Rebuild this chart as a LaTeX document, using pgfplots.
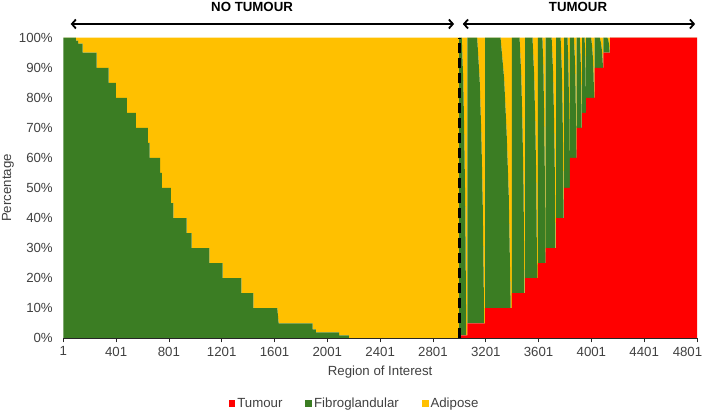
\documentclass[border=0pt]{standalone}
\usepackage{fontspec}
\setmainfont{Liberation Sans}
\usepackage{pgfplots}
\pgfplotsset{compat=1.18}
\usepackage{pgfplotstable}
\usetikzlibrary{arrows.meta}

\definecolor{tumour}{HTML}{FF0000}
\definecolor{fibro}{HTML}{3B7D23}
\definecolor{adipose}{HTML}{FFC000}
\definecolor{txt}{HTML}{404040}

% Tissue composition of each region of interest (percent):
% T = tumour, F = fibroglandular, A = adipose
\pgfplotstableread{
x T F A
1 0 100 0
97 0 100 0
97 0 99 1
114 0 99 1
114 0 98 2
147 0 98 2
147 0 95 5
253 0 95 5
253 0 90 10
344 0 90 10
344 0 85 15
400 0 85 15
400 0 80 20
483 0 80 20
483 0 75 25
551 0 75 25
551 0 70 30
642 0 70 30
642 0 65 35
655 0 65 35
655 0 60 40
735 0 60 40
735 0 55 45
748 0 55 45
748 0 50 50
816 0 50 50
816 0 45 55
834 0 45 55
834 0 40 60
935 0 40 60
935 0 35 65
973 0 35 65
973 0 30 70
1107 0 30 70
1107 0 25 75
1208 0 25 75
1208 0 20 80
1349 0 20 80
1349 0 15 85
1440 0 15 85
1440 0 10 90
1622 0 10 90
1632 0 5 95
1890 0 5 95
1890 0 3 97
1915 0 3 97
1915 0 2 98
2090 0 2 98
2090 0 1 99
2165 0 1 99
2165 0 0 100
3000 0 0 100
3000 1 99 0
3019 1 99 0
3031 1 84.2 14.8
3039 1 64.4 34.6
3046 1 41.6 57.4
3053 1 0 99
3062 1 0 99
3062 5 95 0
3136 5 95 0
3155 5 80.8 14.2
3168 5 61.8 33.2
3178 5 39.9 55.1
3189 5 0 95
3196 5 0 95
3196 10 90 0
3313 10 90 0
3340 10 76.5 13.5
3359 10 58.5 31.5
3375 10 37.8 52.2
3390 10 0 90
3398 10 0 90
3398 15 85 0
3457 15 85 0
3470 15 72.3 12.7
3479 15 55.3 29.7
3487 15 35.7 49.3
3494 15 0 85
3499 15 0 85
3499 20 80 0
3555 20 80 0
3567 20 68 12
3576 20 52 28
3583 20 33.6 46.4
3590 20 0 80
3595 20 0 80
3595 25 75 0
3630 25 75 0
3638 25 63.8 11.2
3643 25 48.8 26.2
3648 25 31.5 43.5
3652 25 0 75
3655 25 0 75
3655 30 70 0
3700 30 70 0
3710 30 59.5 10.5
3717 30 45.5 24.5
3723 30 29.4 40.6
3729 30 0 70
3733 30 0 70
3733 40 60 0
3768 40 60 0
3776 40 51 9
3782 40 39 21
3786 40 25.2 34.8
3791 40 0 60
3794 40 0 60
3794 50 50 0
3820 50 50 0
3826 50 42.5 7.5
3830 50 32.5 17.5
3834 50 21 29
3837 50 0 50
3839 50 0 50
3839 60 40 0
3869 60 40 0
3875 60 34 6
3880 60 26 14
3883 60 16.8 23.2
3887 60 0 40
3890 60 0 40
3890 70 30 0
3913 70 30 0
3918 70 25.5 4.5
3922 70 19.5 10.5
3925 70 12.6 17.4
3928 70 0 30
3930 70 0 30
3930 75 25 0
3949 75 25 0
3953 75 21.3 3.7
3956 75 16.3 8.7
3958 75 10.5 14.5
3960 75 0 25
3962 75 0 25
3962 80 20 0
3999 80 20 0
4007 80 17 3
4013 80 13 7
4017 80 8.4 11.6
4022 80 0 20
4025 80 0 20
4025 90 10 0
4064 90 10 0
4073 90 8.5 1.5
4079 90 6.5 3.5
4084 90 4.2 5.8
4089 90 0 10
4092 90 0 10
4092 95 5 0
4122 95 5 0
4128 95 4.3 0.7
4133 95 3.3 1.7
4136 95 2.1 2.9
4140 95 0 5
4143 95 0 5
4143 100 0 0
4801 100 0 0
}\roidata

\begin{document}
\begin{tikzpicture}[font=\fontsize{13.3}{15.5}\selectfont]
\begin{axis}[
  name=ax, at={(0,0)}, anchor=south west,
  scale only axis, width=633.7bp, height=300.6bp,
  xmin=1, xmax=4801, ymin=0, ymax=100,
  stack plots=y, area style,
  clip=false, axis on top,
  xtick={1,401,...,4401}, ytick={0,10,...,100},
  extra x ticks={4801},
  extra x tick style={xticklabel style={xshift=-9.5bp}},
  /pgf/number format/assume math mode=true,
  /pgf/number format/1000 sep={},
  yticklabel={\pgfmathprintnumber{\tick}\%},
  axis x line*=bottom, axis y line*=left,
  x axis line style={black!85, line width=0.8bp},
  y axis line style={draw=none},
  tick align=outside, major tick length=4bp,
  xtick style={black!85, line width=0.8bp},
  ytick style={draw=none},
  ticklabel style={text=txt},
  xticklabel style={yshift=-1bp},
  yticklabel style={xshift=-3bp},
  xlabel={Region of Interest}, ylabel={Percentage},
  every axis x label/.style={at={(axis description cs:0.5,-0.111)}, anchor=center, text=txt},
  every axis y label/.style={at={(axis description cs:-0.0873,0.5)}, anchor=center, rotate=90, text=txt},
  legend style={at={(axis description cs:0.4595,-0.2162)}, anchor=center, draw=none, fill=none,
    legend columns=3, text=txt,
    /tikz/every even column/.append style={column sep=21bp}},
  legend image code/.code={\fill[#1] (0bp,-3.3bp) rectangle (6.7bp,3.3bp);},
]
\addplot[fill=tumour, draw=none] table[x=x, y=T] {\roidata} \closedcycle;
\addlegendentry{Tumour}
\addplot[fill=fibro, draw=none] table[x=x, y=F] {\roidata} \closedcycle;
\addlegendentry{Fibroglandular}
\addplot[fill=adipose, draw=none] table[x=x, y=A] {\roidata} \closedcycle;
\addlegendentry{Adipose}

% anchor points for the boundary between the two groups
\coordinate (splitbot) at (axis cs:3000,0);
\coordinate (splittop) at (axis cs:3000,100);
% group annotations
\draw[{Straight Barb[length=4bp,width=9bp]}-{Straight Barb[length=4bp,width=9bp]}, line width=1.8bp]
  (axis cs:57,104.56) -- (axis cs:2961,104.56);
\draw[{Straight Barb[length=4bp,width=9bp]}-{Straight Barb[length=4bp,width=9bp]}, line width=1.8bp]
  (axis cs:3027,104.56) -- (axis cs:4787,104.56);
\node[font=\fontsize{13.3}{15.5}\selectfont\bfseries] at (axis cs:1431,110.1) {NO TUMOUR};
\node[font=\fontsize{13.3}{15.5}\selectfont\bfseries] at (axis cs:3900,110.1) {TUMOUR};
\end{axis}
% dashed boundary between the two groups
\draw[black, line width=2.7bp, dash pattern=on 10.5bp off 4.5bp] (splitbot) -- (splittop);
\pgfresetboundingbox
\path[use as bounding box] (-63.3bp,-74.7bp) rectangle (645.7bp,338.3bp);
\end{tikzpicture}
\end{document}
